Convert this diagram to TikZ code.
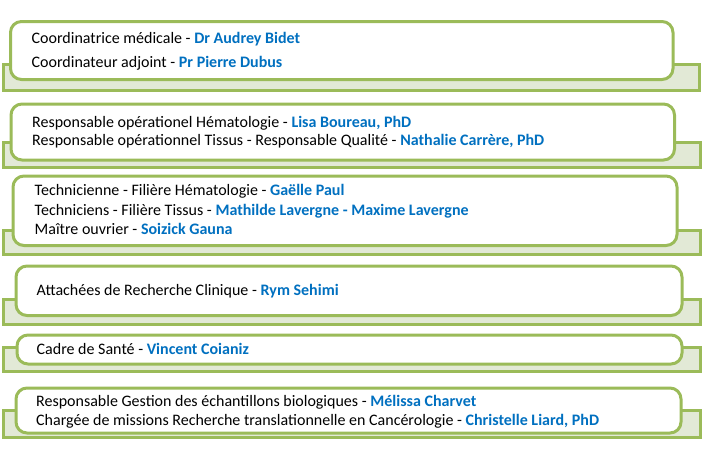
\documentclass[tikz,border=0pt]{standalone}
\usepackage{fontspec}
\setmainfont{Carlito}
\definecolor{grn}{RGB}{155,187,89}
\definecolor{backfill}{RGB}{226,233,214}
\definecolor{nm}{RGB}{0,112,192}
\newcommand{\who}[1]{\textcolor{nm}{\textbf{#1}}}
\begin{document}
\begin{tikzpicture}[x=1pt,y=-1pt,
  backbox/.style={draw=grn,line width=3pt,fill=backfill},
  frontbox/.style={draw=grn,line width=3pt,fill=white,rounded corners=11pt},
  txt/.style={anchor=base west,inner sep=0pt,font=\fontsize{16}{19}\selectfont}]
\useasboundingbox (0,0) rectangle (706,450);
% row 1
\draw[backbox] (3.5,64) rectangle (699.5,90);
\draw[frontbox] (10.5,21.5) rectangle (673,79.5);
\node[txt] (r1a) at (31.5,43.3) {Coordinatrice médicale - \who{Dr Audrey Bidet}};
\node[txt] (r1b) at (31.5,67) {Coordinateur adjoint - \who{Pr Pierre Dubus}};
% row 2
\draw[backbox] (3.5,142) rectangle (700,167);
\draw[frontbox] (11,104) rectangle (674.5,160);
\node[txt] (r2a) at (32,127.3) {Responsable opérationel Hématologie - \who{Lisa Boureau, PhD}};
\node[txt] (r2b) at (32,145.7) {Responsable opérationnel Tissus - Responsable Qualité - \who{Nathalie Carrère, PhD}};
% row 3
\draw[backbox] (3.5,230) rectangle (700,254);
\draw[frontbox] (13,176) rectangle (677,245.5);
\node[txt] (r3a) at (34.5,195.7) {Technicienne - Filière Hématologie - \who{Gaëlle Paul}};
\node[txt] (r3b) at (34.5,215.7) {Techniciens - Filière Tissus - \who{Mathilde Lavergne - Maxime Lavergne}};
\node[txt] (r3c) at (34.5,234.3) {Maître ouvrier - \who{Soizick Gauna}};
% row 4
\draw[backbox] (3.5,299) rectangle (700,324);
\draw[frontbox] (16,266) rectangle (682,315.5);
\node[txt] (r4a) at (36.5,295.7) {Attachées de Recherche Clinique - \who{Rym Sehimi}};
% row 5
\draw[backbox] (3.5,347) rectangle (700,371.5);
\draw[frontbox] (17,335) rectangle (682,364);
\node[txt] (r5a) at (36.5,354) {Cadre de Santé - \who{Vincent Coianiz}};
% row 6
\draw[backbox] (3.5,410) rectangle (700,437.5);
\draw[frontbox] (16,388) rectangle (681,433);
\node[txt] (r6a) at (36,406.7) {Responsable Gestion des échantillons biologiques - \who{Mélissa Charvet}};
\node[txt] (r6b) at (36,425.7) {Chargée de missions Recherche translationnelle en Cancérologie - \who{Christelle Liard, PhD}};
\end{tikzpicture}
\end{document}
